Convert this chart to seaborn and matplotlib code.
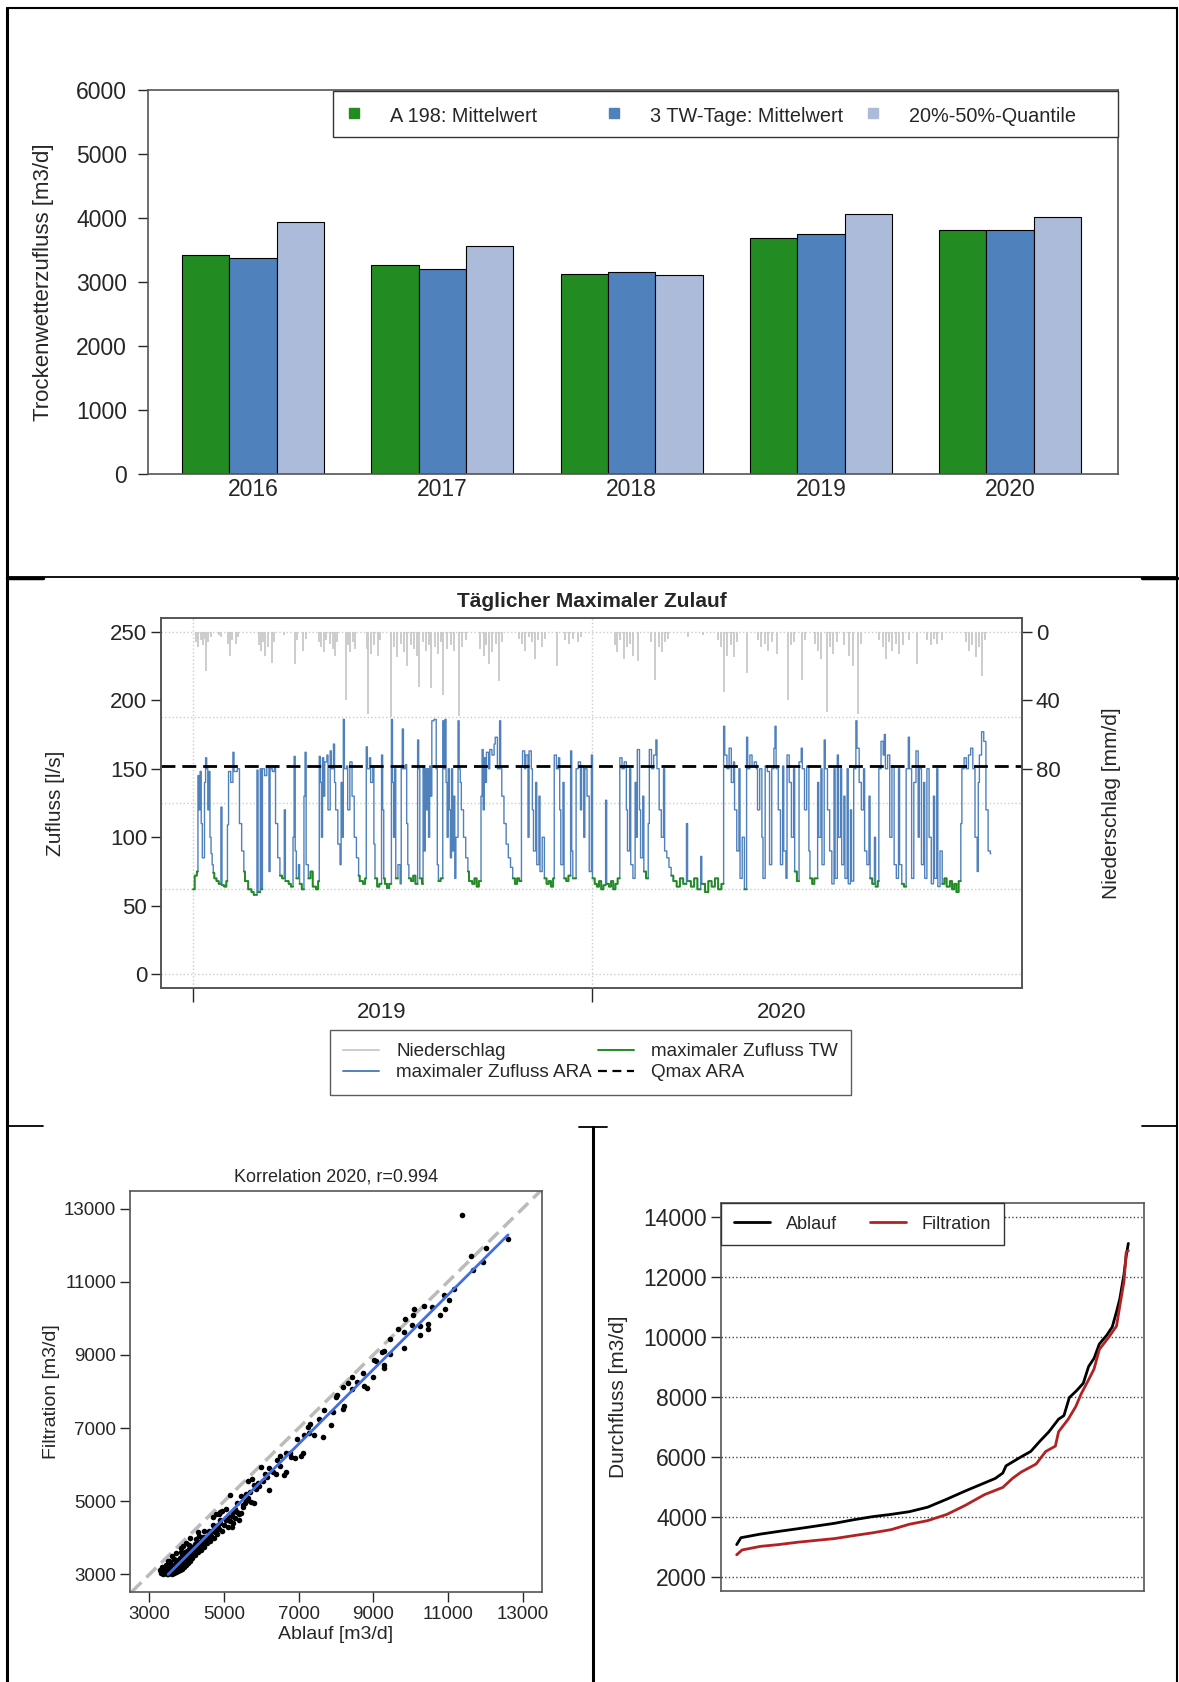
import numpy as np
import pandas as pd
import matplotlib
matplotlib.use("Agg")
import matplotlib.pyplot as plt
from matplotlib.lines import Line2D
from matplotlib.patches import Rectangle
import seaborn as sns

# ---------------- Daten ----------------
# Trockenwetterzufluss pro Jahr
jahre = ['2016', '2017', '2018', '2019', '2020']
a198_mittel = [3420, 3260, 3125, 3680, 3810]
tw3_mittel = [3375, 3205, 3160, 3750, 3810]
quantil_20_50 = [3945, 3570, 3105, 4060, 4010]
serien = ['A 198: Mittelwert', '3 TW-Tage: Mittelwert', '20%-50%-Quantile']

# Taeglicher maximaler Zulauf 2019-2020 (Tag ab 01.01.2019, Wert gilt bis zum naechsten Eintrag)
zufluss_tag = [0, 2, 4, 5, 6, 7, 8, 9, 11, 12, 13, 14, 15, 16, 17, 18, 19, 20, 22, 24, 26, 27, 29, 31, 32, 33, 35, 37, 38, 41,
               43, 45, 47, 48, 51, 54, 56, 59, 60, 62, 63, 64, 66, 68, 70, 71, 73, 75, 76, 78, 80, 82, 84, 85, 88, 90, 92, 93, 94, 95,
               97, 98, 100, 102, 103, 104, 106, 108, 110, 113, 115, 116, 117, 118, 119, 120, 121, 123, 124, 126, 127, 129, 130, 131, 133, 135, 136, 137, 138, 139,
               141, 142, 144, 146, 148, 150, 152, 153, 156, 158, 159, 160, 162, 163, 165, 166, 167, 169, 171, 173, 174, 175, 176, 178, 180, 182, 183, 184, 185, 186,
               188, 190, 191, 192, 193, 195, 196, 197, 198, 200, 202, 204, 206, 207, 208, 210, 211, 212, 213, 214, 215, 216, 217, 218, 219, 221, 223, 224, 225, 227,
               229, 230, 231, 232, 233, 234, 235, 236, 237, 238, 239, 240, 241, 243, 244, 245, 246, 248, 250, 252, 253, 256, 258, 260, 262, 264, 265, 266, 267, 268,
               269, 271, 272, 274, 276, 277, 279, 281, 282, 283, 285, 287, 289, 291, 293, 295, 297, 299, 301, 302, 304, 305, 307, 308, 310, 311, 312, 314, 315, 317,
               318, 320, 322, 324, 326, 328, 330, 331, 333, 335, 336, 337, 339, 340, 342, 344, 346, 347, 348, 351, 353, 355, 356, 358, 359, 361, 363,
               365, 366, 368, 370, 372, 374, 376, 378, 379, 381, 383, 385, 387, 389, 391, 393, 395, 397, 398, 400, 401, 403, 405, 406, 407, 409, 410, 412, 413,
               415, 417, 418, 420, 422, 424, 425, 427, 429, 431, 432, 434, 436, 438, 440, 443, 446, 449, 452, 453, 456, 459, 462, 465, 466, 469, 472, 475, 478, 481,
               484, 486, 487, 489, 491, 493, 495, 496, 498, 500, 501, 503, 505, 507, 508, 510, 512, 514, 516, 517, 519, 521, 522, 524, 526, 528, 530, 532, 533, 534,
               536, 538, 540, 541, 543, 544, 546, 548, 550, 551, 553, 555, 557, 558, 560, 562, 564, 565, 567, 569, 572, 573, 575, 576, 578, 579, 581, 583, 585, 587,
               588, 590, 591, 593, 594, 596, 597, 599, 600, 602, 603, 605, 607, 608, 610, 612, 614, 615, 617, 619, 620, 622, 624, 625, 627, 628, 630, 632, 633, 634,
               636, 638, 640, 642, 644, 646, 647, 649, 651, 653, 655, 656, 658, 660, 662, 664, 665, 667, 669, 670, 672, 674, 676, 678, 679, 681, 682, 684, 686, 688,
               690, 693, 695, 697, 699, 701, 703, 704, 706, 708, 710, 712, 714, 716, 718, 719, 720, 722, 724, 726, 728, 730]
zufluss_wert = [62, 72, 75, 145, 120, 148, 110, 85, 140, 158, 150, 120, 148, 100, 88, 80, 74, 70, 68, 66, 122, 65, 64, 68, 109, 148, 140, 162, 148, 150,
                110, 90, 75, 68, 62, 60, 58, 149, 60, 150, 62, 150, 145, 152, 75, 150, 148, 152, 110, 85, 72, 70, 120, 68, 66, 64, 100, 159, 90, 70,
                80, 66, 62, 130, 162, 80, 70, 75, 64, 62, 68, 159, 140, 100, 158, 130, 155, 160, 120, 163, 150, 168, 140, 120, 95, 80, 140, 100, 186, 150,
                152, 120, 155, 130, 100, 85, 72, 68, 66, 70, 166, 150, 158, 140, 152, 95, 70, 64, 66, 160, 120, 70, 66, 63, 66, 186, 140, 100, 150, 70,
                80, 66, 150, 179, 150, 153, 110, 80, 70, 68, 72, 66, 171, 150, 70, 66, 152, 90, 150, 120, 150, 100, 152, 130, 185, 186, 150, 80, 68, 70,
                185, 150, 186, 140, 100, 150, 120, 85, 150, 90, 130, 70, 100, 185, 150, 140, 120, 100, 85, 75, 68, 66, 70, 64, 68, 130, 164, 120, 158, 140,
                162, 150, 164, 160, 168, 173, 150, 185, 150, 130, 110, 95, 85, 78, 70, 66, 70, 68, 152, 163, 150, 160, 100, 163, 150, 120, 90, 140, 80, 130,
                75, 100, 70, 66, 68, 64, 70, 160, 150, 158, 120, 80, 140, 70, 68, 72, 163, 90, 70, 150, 155, 120, 152, 100, 150, 130, 75,
                160, 70, 66, 64, 68, 62, 65, 127, 66, 64, 68, 62, 66, 70, 158, 150, 155, 120, 90, 150, 80, 70, 140, 100, 164, 120, 85, 130, 75,
                70, 110, 164, 150, 160, 171, 150, 120, 100, 150, 90, 85, 78, 72, 68, 64, 70, 66, 110, 68, 64, 70, 62, 86, 66, 60, 68, 64, 70, 62,
                66, 181, 160, 150, 165, 140, 155, 120, 90, 150, 70, 100, 62, 173, 150, 160, 152, 155, 150, 120, 150, 100, 70, 152, 148, 80, 150, 165, 181, 150,
                120, 80, 152, 90, 70, 160, 140, 100, 150, 75, 68, 155, 165, 150, 120, 152, 90, 70, 66, 70, 140, 100, 150, 80, 171, 150, 120, 90, 66, 150,
                70, 160, 100, 150, 80, 130, 70, 150, 66, 120, 68, 150, 185, 165, 140, 120, 150, 90, 80, 130, 70, 66, 100, 64, 68, 150, 170, 160, 175, 150,
                160, 100, 152, 80, 70, 150, 80, 66, 64, 150, 173, 150, 70, 140, 163, 100, 150, 80, 140, 70, 150, 100, 66, 130, 70, 150, 64, 90, 66, 70,
                64, 68, 62, 66, 60, 68, 110, 150, 158, 150, 160, 165, 150, 100, 75, 140, 160, 177, 170, 120, 90, 88]

# Trockenwettertage (von, bis)
tw_von = [0, 19, 27, 47, 60, 63, 80, 85, 95, 98, 106, 152, 167, 175, 186, 198, 208, 225, 252, 293, 322, 340, 348,
          366, 379, 413, 438, 453, 466, 505, 551, 565, 620, 625, 649, 686]
tw_bis = [4, 25, 31, 58, 61, 63, 83, 91, 96, 101, 115, 158, 172, 181, 187, 205, 210, 228, 263, 300, 330, 345, 350,
          377, 390, 416, 451, 464, 485, 506, 554, 571, 623, 627, 652, 702]

# Niederschlag (Tag, mm/d)
regen_tag = [3, 5, 7, 9, 10, 12, 14, 16, 24, 26, 32, 34, 36, 39, 41, 60, 62, 64, 66, 69, 72, 74, 83, 93, 95, 101, 103, 115, 117, 120,
             122, 125, 128, 130, 132, 140, 142, 144, 146, 148, 159, 160, 163, 166, 169, 171, 181, 184, 187, 190, 193, 196, 199, 202, 205, 207, 210, 213, 216, 218,
             221, 224, 227, 229, 232, 236, 239, 243, 246, 250, 263, 266, 268, 271, 274, 277, 280, 283, 298, 301, 304, 307, 310, 313, 316, 319, 322, 333, 340, 344,
             348, 352, 355, 386, 388, 391, 394, 397, 400, 403, 407, 419, 423, 426, 429, 432, 435, 453, 467, 480, 483, 486, 489, 492, 495, 498, 507, 517, 520, 523,
             526, 530, 534, 544, 547, 550, 557, 560, 569, 572, 575, 580, 583, 586, 589, 596, 600, 604, 608, 611, 628, 631, 634, 637, 640, 643, 646, 650, 655, 662,
             672, 675, 678, 681, 685, 707, 710, 713, 716, 719, 722, 725]
regen_mm = [6, 9, 5, 8, 4, 23, 6, 3, 2, 3, 7, 14, 5, 7, 3, 8, 11, 6, 14, 9, 18, 6, 2, 19, 5, 11, 4, 6, 9, 12,
            5, 7, 10, 14, 6, 40, 8, 12, 6, 10, 10, 48, 13, 8, 14, 5, 50, 9, 15, 7, 12, 20, 8, 10, 14, 32, 6, 11, 8, 33,
            9, 13, 6, 37, 10, 8, 11, 49, 9, 5, 10, 14, 8, 19, 12, 7, 29, 6, 4, 7, 11, 3, 6, 16, 5, 9, 4, 20, 5, 7,
            4, 6, 3, 8, 12, 5, 16, 9, 7, 14, 17, 6, 28, 9, 12, 6, 4, 3, 2, 5, 9, 35, 14, 8, 15, 6, 24, 5, 9, 7,
            11, 6, 13, 40, 8, 6, 28, 5, 7, 11, 16, 47, 9, 13, 6, 8, 14, 20, 48, 7, 5, 9, 16, 6, 11, 7, 13, 8, 5, 19,
            5, 8, 4, 7, 5, 6, 11, 8, 15, 9, 26, 5]
qmax_ara = 152

# Korrelation Ablauf / Filtration 2020
streu_ablauf = [11380, 12610, 12030, 11630, 11950, 11680, 11150, 10890, 11020, 10920, 10790, 10360, 10560, 10090, 10060, 9860, 10040, 10240, 10460, 10460,
                10240, 9830, 9660, 9810, 9450, 9450, 9280, 9230, 9280, 9280, 9030, 9080, 8980, 8730, 8760, 8830, 8570, 8440, 8440, 8320,
                8190, 8020, 8000, 8220, 8190, 7920, 7670, 7870, 7550, 7310, 7260, 7280, 7420, 7640, 7140, 6960, 7110, 7060, 6910, 6760,
                6660, 6510, 6410, 6660, 6610, 6510, 6210, 5980, 6160, 6210, 6050, 5950, 5850, 5750, 5650, 5700, 5730, 5800, 5450, 5500,
                5400, 5170, 5200, 5050, 5050, 4950, 4870, 4850, 4790, 4720, 4590, 4520, 4440, 4320, 4240, 4140, 4040, 3990, 3940, 3840,
                3740, 3640, 3530, 3430, 3330, 3280, 5300, 5600, 5900, 6300, 6800, 6400, 6100, 5800, 5350, 5250, 4600, 4700, 4900, 5100,
                3320, 3340, 3360, 3380, 3400, 3410, 3430, 3450, 3460, 3480, 3490, 3500, 3510, 3530, 3540, 3550, 3560, 3580, 3600, 3610,
                3620, 3640, 3650, 3660, 3680, 3700, 3710, 3720, 3740, 3750, 3760, 3770, 3790, 3800, 3810, 3820, 3840, 3850, 3860, 3870,
                3890, 3900, 3910, 3920, 3940, 3950, 3960, 3980, 3990, 4000, 4010, 4030, 4040, 4060, 4070, 4090, 4100, 4120, 4140, 4150,
                4170, 4190, 4210, 4230, 4250, 4270, 4290, 4310, 4330, 4350, 4380, 4400, 4420, 4450, 4470, 4500, 4530, 4560, 4590, 4620,
                4650, 4680, 4720, 4750, 4780, 4820, 4860, 4900, 4950, 5000, 5050, 5100, 5150, 5200, 5250, 5300, 5350, 5400, 5450, 5500,
                5550, 5600, 5650, 3500, 3600, 3700, 3900, 4100, 4300, 3450, 3650, 3850, 4050, 4250, 4450, 4700, 4900, 3350, 3550]
streu_filtration = [12830, 12170, 11910, 11690, 11530, 11330, 10790, 10650, 10500, 10250, 10100, 10350, 10310, 10260, 10080, 9980, 9820, 9790, 9840, 9720,
                    9540, 9620, 9710, 9180, 9430, 9020, 9120, 9070, 8730, 8640, 8860, 8830, 8390, 8510, 8150, 8090, 8270, 8400, 8070, 8220,
                    8120, 7910, 7860, 7600, 7510, 7440, 7490, 7090, 7260, 7120, 7030, 6870, 6800, 6760, 6800, 6700, 6310, 6240, 6180, 6310,
                    6310, 6230, 6130, 5790, 5720, 5970, 5920, 5940, 5670, 5300, 5550, 5430, 5330, 5600, 5550, 5260, 4990, 4940, 5140, 4910,
                    4650, 5180, 4300, 4500, 4790, 4740, 4650, 4350, 4650, 4250, 4040, 3860, 4010, 4060, 3780, 3670, 3570, 3860, 3420, 3720,
                    3270, 3230, 3370, 3180, 3080, 3130, 4800, 5200, 5500, 5800, 6200, 5750, 5750, 5450, 4950, 4700, 4200, 4350, 4500, 4600,
                    3050, 3120, 3010, 3080, 3150, 3040, 3100, 3210, 3000, 3060, 3140, 3250, 3020, 3100, 3180, 3300, 3050, 3130, 3220, 3010,
                    3080, 3160, 3270, 3040, 3110, 3200, 3350, 3060, 3140, 3240, 3400, 3090, 3180, 3290, 3450, 3120, 3230, 3330, 3500, 3160,
                    3270, 3380, 3560, 3200, 3310, 3430, 3600, 3250, 3360, 3480, 3650, 3300, 3420, 3540, 3700, 3380, 3480, 3600, 3760, 3450,
                    3550, 3680, 3820, 3520, 3630, 3750, 3900, 3600, 3720, 3840, 3680, 3800, 3950, 3760, 3880, 4030, 3850, 3970, 4120, 3920,
                    4060, 4200, 4000, 4150, 4300, 4100, 4250, 4400, 4200, 4350, 4500, 4300, 4450, 4600, 4400, 4550, 4700, 4500, 4680, 4850,
                    4950, 5000, 5100, 3380, 3500, 3580, 3780, 3990, 4160, 3250, 3420, 3620, 3810, 3980, 4180, 4560, 4720, 3210, 3350]
# Regressionsgerade (Endpunkte aus der Grafik)
regression_ablauf = [3500, 12610]
regression_filtration = [3000, 12280]

# Dauerlinie (Rang des Tages, Durchfluss)
ablauf_rang = [1, 5, 23, 40, 58, 75, 92, 110, 127, 145, 162, 179, 197, 214, 232, 242, 249, 252, 266, 275, 284, 292, 301, 306, 311,
               318, 324, 329, 334, 339, 346, 351, 355, 358, 362, 364, 366]
ablauf_wert = [3070, 3300, 3420, 3510, 3600, 3690, 3780, 3900, 4000, 4080, 4170, 4320, 4590, 4860, 5130, 5280, 5460, 5700, 6000, 6180,
               6540, 6840, 7260, 7380, 7980, 8220, 8460, 9020, 9290, 9770, 10070, 10340, 10850, 11270, 12110, 12710, 13130]
filtration_rang = [1, 6, 23, 40, 58, 75, 92, 110, 127, 145, 162, 179, 197, 214, 232, 249, 258, 266, 280, 289, 298, 301, 310, 317,
                   322, 329, 334, 339, 348, 355, 358, 362, 364, 366]
filtration_wert = [2730, 2890, 3010, 3070, 3150, 3210, 3270, 3370, 3460, 3570, 3750, 3870, 4080, 4380, 4740, 4980, 5280, 5490, 5760,
                   6180, 6360, 6840, 7260, 7680, 8100, 8580, 8930, 9590, 10010, 10370, 11030, 11870, 12830, 12890]

# ---------------- Grafik ----------------
sns.set_style("ticks")
plt.rcParams['font.family'] = ['Liberation Sans', 'DejaVu Sans']

W, H = 1179, 1682
fig = plt.figure(figsize=(W / 100, H / 100), dpi=100)


def box(links, oben, rechts, unten):
    return [links / W, 1 - unten / H, (rechts - links) / W, (unten - oben) / H]


def rahmen(ax):
    for s in ax.spines.values():
        s.set_visible(True)
        s.set_color('#555555')
        s.set_linewidth(1.2)


def linie(x0, y0, x1, y1, lw=1.5):
    fig.add_artist(Line2D([x0 / W, x1 / W], [1 - y0 / H, 1 - y1 / H], color='black',
                          lw=lw, transform=fig.transFigure))


# --- 1: Trockenwetterzufluss ---
farben = ['#228B22', '#4F81BD', '#ABBBD9']
df_tw = pd.DataFrame({'Jahr': jahre * 3,
                      'Serie': np.repeat(serien, len(jahre)),
                      'Wert': a198_mittel + tw3_mittel + quantil_20_50})
ax1 = fig.add_axes(box(148, 90, 1118, 474))
sns.barplot(data=df_tw, x='Jahr', y='Wert', hue='Serie', palette=farben, width=0.75,
            edgecolor='black', linewidth=0.8, saturation=1, errorbar=None, legend=False, ax=ax1)
ax1.set_xlim(-0.555, 4.57)
ax1.set_ylim(0, 6000)
ax1.set_yticks(range(0, 6001, 1000))
ax1.set_xlabel('')
ax1.set_ylabel('Trockenwetterzufluss [m3/d]', fontsize=16)
ax1.yaxis.set_label_coords(-0.097, 0.5)
ax1.tick_params(axis='y', labelsize=16.5, length=7, width=1, pad=8)
ax1.tick_params(axis='x', labelsize=16.5, length=0, pad=3)
rahmen(ax1)

# Legende mit gleich breiten Spalten (wie in R)
fig.add_artist(Rectangle((333 / W, 1 - 137 / H), (1118 - 333) / W, 46 / H, transform=fig.transFigure,
                         facecolor='white', edgecolor='#333333', lw=1.0, zorder=5))
for i, (c, name) in enumerate(zip(farben, serien)):
    xm = 354 + i * 259.5
    fig.add_artist(Line2D([xm / W], [1 - 113 / H], marker='s', ls='none', color=c, markersize=7,
                          transform=fig.transFigure, zorder=6))
    fig.text((xm + 36) / W, 1 - 116 / H, name, fontsize=14.3, va='center', ha='left', zorder=6)

# --- 2: Taeglicher maximaler Zulauf ---
tage = np.arange(731)
zufluss = np.array(zufluss_wert, dtype=float)[np.searchsorted(zufluss_tag, tage, side='right') - 1]
tw = np.full(len(tage), np.nan)
for a, b in zip(tw_von, tw_bis):
    tw[a:b + 1] = zufluss[a:b + 1]

ax2 = fig.add_axes(box(161, 618, 1022, 988))
ax2r = ax2.twinx()
ax2.set_zorder(ax2r.get_zorder() + 1)
ax2.patch.set_visible(False)

ax2r.vlines(regen_tag, 0, regen_mm, color='#CCCCCC', lw=1.4)
ax2r.set_ylim(208, -8)
ax2r.set_yticks([0, 40, 80])
ax2r.tick_params(axis='y', labelsize=16, length=7, width=1, pad=3)
ax2r.set_ylabel('Niederschlag [mm/d]', fontsize=15, labelpad=30)

for g in [0, 62.5, 125, 187.5, 250]:
    ax2.axhline(g, color='#CCCCCC', ls=':', lw=1, zorder=0)
for g in [0, 365]:
    ax2.axvline(g, color='#CCCCCC', ls=':', lw=1, zorder=0)
sns.lineplot(x=tage, y=zufluss, color='#4F81BD', lw=1.0, drawstyle='steps-mid', ax=ax2)
ax2.plot(tage, tw, color='#228B22', lw=1.4, drawstyle='steps-mid')
ax2.axhline(qmax_ara, color='black', lw=2, dashes=(5, 2.5))

ax2.set_xlim(-29.3, 758.5)
ax2.set_ylim(-10, 260)
ax2.set_yticks(range(0, 251, 50))
ax2.set_xticks([0, 365])
ax2.set_xticklabels(['', ''])
ax2.set_xticks([173, 539], minor=True)
ax2.set_xticklabels(['2019', '2020'], minor=True)
ax2.tick_params(axis='x', which='major', length=10, width=1)
ax2.tick_params(axis='x', which='minor', length=0, labelsize=16, pad=10)
ax2.tick_params(axis='y', labelsize=16, length=7, width=1, pad=3)
ax2.set_ylabel('Zufluss [l/s]', fontsize=15)
ax2.yaxis.set_label_coords(-0.112, 0.5)
ax2.set_title('Täglicher Maximaler Zulauf', fontsize=15, fontweight='bold', pad=8)
rahmen(ax2)
rahmen(ax2r)

griffe2 = [Line2D([], [], color='#CCCCCC', lw=1.4), Line2D([], [], color='#4F81BD', lw=1.4),
           Line2D([], [], color='#228B22', lw=1.4), Line2D([], [], color='black', lw=1.6, dashes=(4, 2.5))]
namen2 = ['Niederschlag', 'maximaler Zufluss ARA', 'maximaler Zufluss TW', 'Qmax ARA']
lg2 = fig.legend(griffe2, namen2, ncol=2, loc='upper left', bbox_to_anchor=(330 / W, 1 - 1030 / H),
                 fontsize=13.6, frameon=True, fancybox=False, edgecolor='#333333', borderaxespad=0,
                 handlelength=1.9, handletextpad=0.9, columnspacing=0.35, borderpad=0.7, labelspacing=0.2)
lg2.get_frame().set_linewidth(1.0)

# --- 3: Korrelation ---
ax3 = fig.add_axes(box(130, 1191, 542, 1592))
ax3.axline((0, 0), slope=1, color='#BBBBBB', lw=2.5, dashes=(4, 2), zorder=1)
sns.scatterplot(x=streu_ablauf, y=streu_filtration, color='black', s=16, linewidth=0, ax=ax3, zorder=2)
sns.lineplot(x=regression_ablauf, y=regression_filtration, color='#4070E0', lw=2, ax=ax3, zorder=3)
ax3.set_xlim(2480, 13520)
ax3.set_ylim(2520, 13480)
ax3.set_xticks(range(3000, 13001, 2000))
ax3.set_yticks(range(3000, 13001, 2000))
ax3.tick_params(labelsize=13.5, length=7, width=1, pad=3)
ax3.set_xlabel('Ablauf [m3/d]', fontsize=14, labelpad=2)
ax3.set_ylabel('Filtration [m3/d]', fontsize=14)
ax3.yaxis.set_label_coords(-0.169, 0.5)
ax3.set_title('Korrelation 2020, r=0.994', fontsize=13, pad=7)
rahmen(ax3)

# --- 4: Dauerlinie ---
ax4 = fig.add_axes(box(721, 1203, 1144, 1591))
for g in range(2000, 14001, 2000):
    ax4.axhline(g, color='#444444', ls=':', lw=1, zorder=0)
sns.lineplot(x=ablauf_rang, y=ablauf_wert, color='black', lw=2, ax=ax4)
sns.lineplot(x=filtration_rang, y=filtration_wert, color='#B22222', lw=2, ax=ax4)
ax4.set_xlim(-13.6, 380.6)
ax4.set_ylim(1520, 14480)
ax4.set_xticks([])
ax4.set_yticks(range(2000, 14001, 2000))
ax4.tick_params(axis='y', labelsize=16.5, length=7, width=1, pad=3)
ax4.set_xlabel('')
ax4.set_ylabel('Durchfluss [m3/d]', fontsize=15)
ax4.yaxis.set_label_coords(-0.219, 0.5)
rahmen(ax4)
griffe4 = [Line2D([], [], color='black', lw=2), Line2D([], [], color='#B22222', lw=2)]
lg4 = ax4.legend(griffe4, ['Ablauf', 'Filtration'], ncol=2, loc='upper left', bbox_to_anchor=(0, 1),
                 fontsize=13, frameon=True, fancybox=False, edgecolor='#333333', borderaxespad=0,
                 handlelength=2.0, handletextpad=0.9, columnspacing=1.8, borderpad=0.7)
lg4.get_frame().set_linewidth(1.0)
lg4.get_frame().set_facecolor('white')
lg4.get_frame().set_alpha(1)

# --- Rahmenlinien ---
linie(7, 8, 7, 1682, 2.2)
linie(7, 8, 1177, 8, 1.5)
linie(1177, 8, 1177, 1682, 1.5)
linie(7, 577, 1177, 577, 1.3)
linie(7, 578, 43, 578, 2.5)
linie(1142, 578, 1177, 578, 2.5)
linie(7, 1126, 43, 1126, 1.3)
linie(1142, 1126, 1177, 1126, 1.3)
linie(579, 1127, 607, 1127, 1.3)
linie(593, 1127, 593, 1682, 2.2)

fig.savefig('out.png', dpi=100, facecolor='white')
